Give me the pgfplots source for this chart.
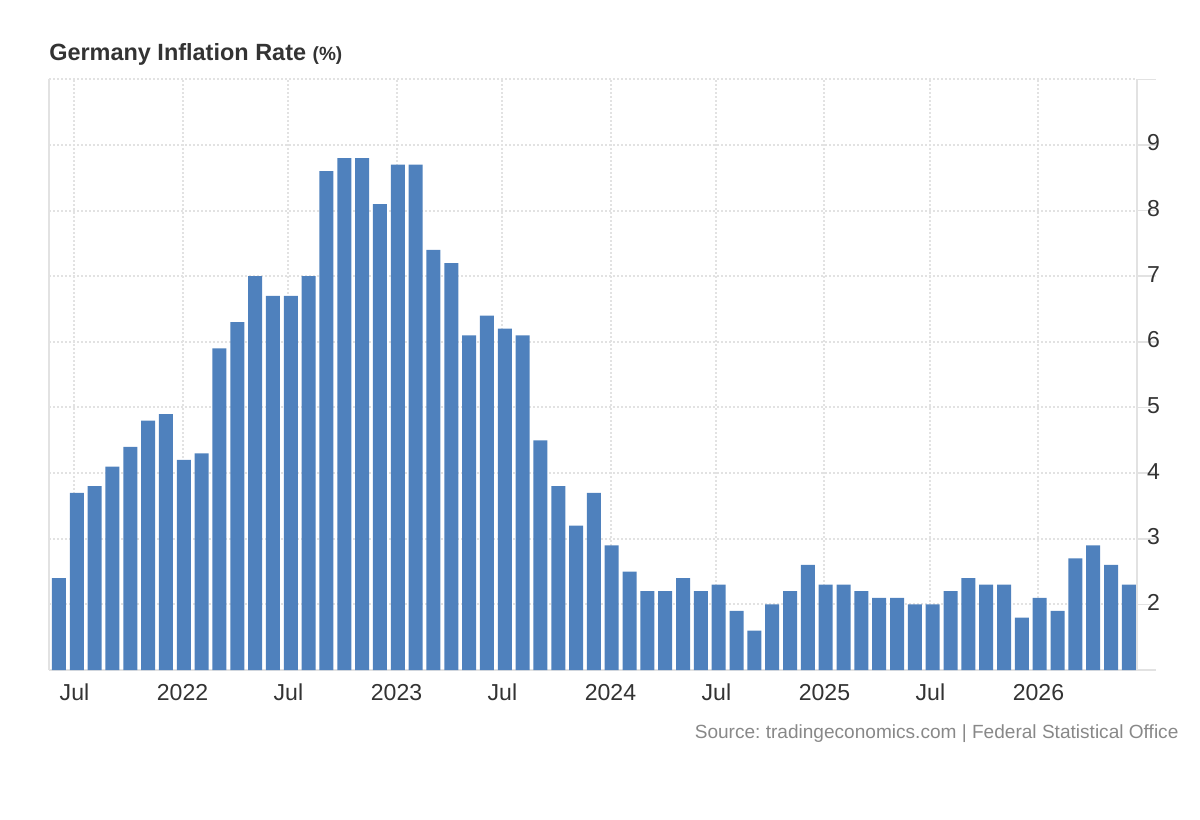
\documentclass[border=0pt]{standalone}
\usepackage{pgfplots}
\usepackage{pgfplotstable}
\pgfplotsset{compat=1.18}
\usepackage{fontspec}
\setmainfont{Liberation Sans}
\frenchspacing
\definecolor{barblue}{RGB}{79,129,189}
\definecolor{txt}{RGB}{51,51,51}
\definecolor{gridc}{RGB}{226,226,226}
\definecolor{axc}{RGB}{226,226,226}
\definecolor{srcc}{RGB}{136,136,136}

\pgfplotstableread{
x y
0 2.4
1 3.7
2 3.8
3 4.1
4 4.4
5 4.8
6 4.9
7 4.2
8 4.3
9 5.9
10 6.3
11 7.0
12 6.7
13 6.7
14 7.0
15 8.6
16 8.8
17 8.8
18 8.1
19 8.7
20 8.7
21 7.4
22 7.2
23 6.1
24 6.4
25 6.2
26 6.1
27 4.5
28 3.8
29 3.2
30 3.7
31 2.9
32 2.5
33 2.2
34 2.2
35 2.4
36 2.2
37 2.3
38 1.9
39 1.6
40 2.0
41 2.2
42 2.6
43 2.3
44 2.3
45 2.2
46 2.1
47 2.1
48 2.0
49 2.0
50 2.2
51 2.4
52 2.3
53 2.3
54 1.8
55 2.1
56 1.9
57 2.7
58 2.9
59 2.6
60 2.3
}\inflation

\begin{document}
\begin{tikzpicture}[x=1pt,y=1pt]
\useasboundingbox (0,0) rectangle (900,-615);
\begin{axis}[
  name=ax,
  at={(37pt,-502.5pt)}, anchor=south west,
  width=815.8pt, height=443pt, scale only axis,
  xmin=-0.54, xmax=60.46, ymin=1, ymax=10,
  axis x line*=bottom, axis y line*=right,
  axis line style={draw=axc, line width=1.5pt},
  tick align=outside,
  major tick length=14pt,
  xtick style={draw=none},
  ytick style={draw=axc, line width=1.2pt},
  xtick={0.87,6.93,12.87,18.93,24.87,30.93,36.87,42.93,48.87,54.93},
  xticklabels={Jul,2022,Jul,2023,Jul,2024,Jul,2025,Jul,2026},
  ytick={1,2,3,4,5,6,7,8,9,10},
  yticklabels={,2,3,4,5,6,7,8,9,},
  xticklabel style={anchor=base, inner sep=0pt, yshift=-8.5pt, text=txt, font=\fontsize{17.3}{18}\selectfont},
  yticklabel style={anchor=west, inner sep=0pt, xshift=-6.7pt, yshift=1.5pt, text=txt, font=\fontsize{17.3}{18}\selectfont},
  xmajorgrids, ymajorgrids,
  major grid style={draw=gridc, line width=1.5pt, dash pattern=on 1.5pt off 1.5pt},
]
\addplot[ybar, bar width=0.785, bar shift=0pt, draw=none, fill=barblue] table[x=x,y=y]{\inflation};
\end{axis}
\draw[axc, line width=1.5pt] (ax.south west) -- (ax.north west);
\node[anchor=base west, inner sep=0pt, text=txt] at (36.75,-45.5)
  {\bfseries\fontsize{17.6}{20}\selectfont Germany Inflation Rate \fontsize{14.3}{16}\selectfont(\%)};
\node[anchor=base east, inner sep=0pt, text=srcc] at (884,-553.5)
  {\fontsize{14.3}{16}\selectfont Source: tradingeconomics.com | Federal Statistical Office};
\end{tikzpicture}
\end{document}
